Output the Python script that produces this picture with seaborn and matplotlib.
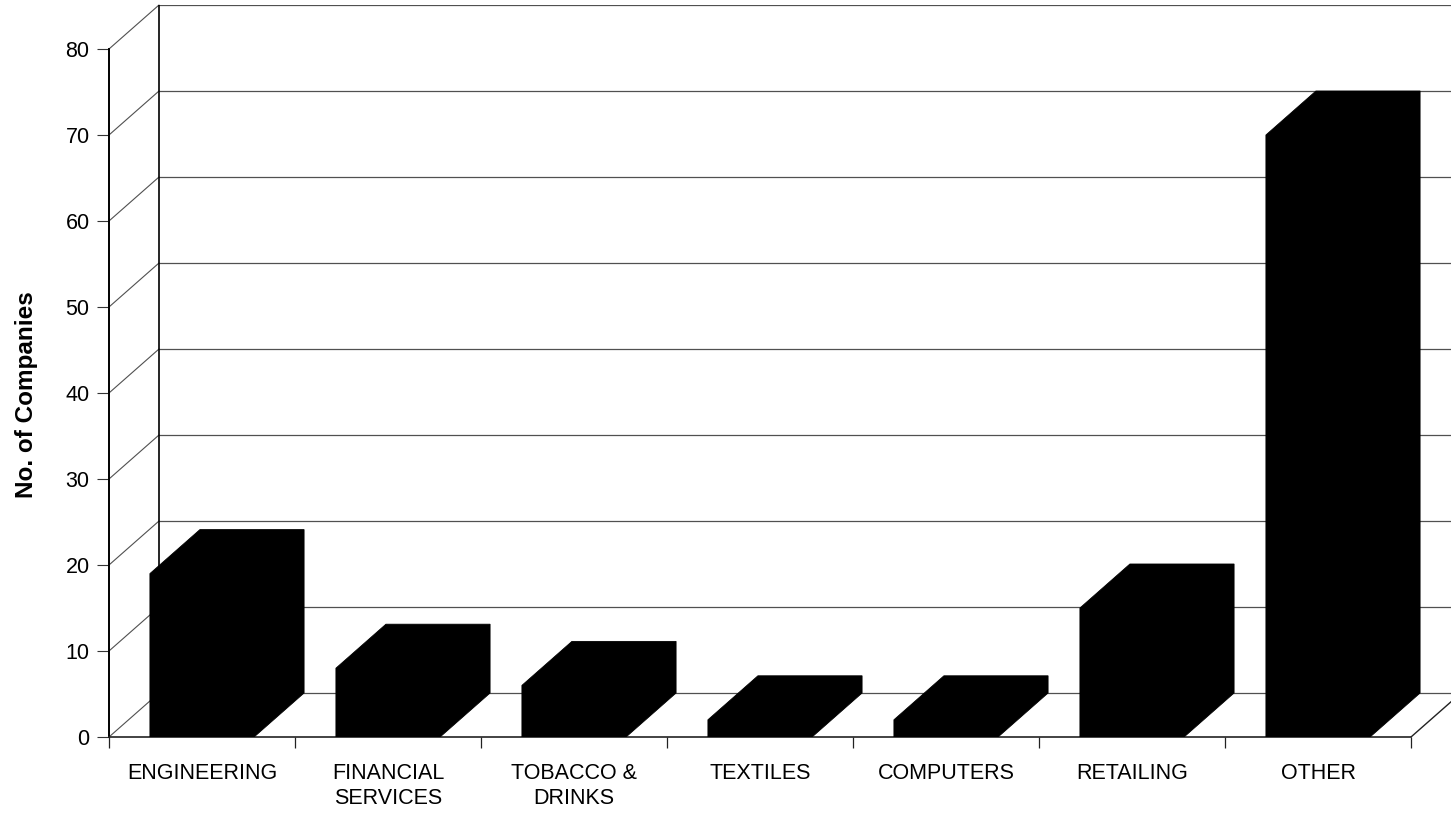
import matplotlib
matplotlib.use("Agg")
import matplotlib.pyplot as plt
import seaborn as sns
import pandas as pd
from matplotlib.patches import Polygon

categories = ["ENGINEERING", "FINANCIAL\nSERVICES", "TOBACCO &\nDRINKS", "TEXTILES",
              "COMPUTERS", "RETAILING", "OTHER"]
values = [19, 8, 6, 2, 2, 15, 70]
yticks = [0, 10, 20, 30, 40, 50, 60, 70, 80]
ylabel = "No. of Companies"

sns.set_style("white")
plt.rcParams["font.family"] = ["Liberation Sans", "DejaVu Sans"]
plt.rcParams["text.color"] = "black"
plt.rcParams["xtick.labelcolor"] = "black"
plt.rcParams["ytick.labelcolor"] = "black"

W, H = 1451, 813
fig = plt.figure(figsize=(W / 100, H / 100), dpi=100)
left_px, right_px, bot_px, top_px = 109, 1451, 737, 5
ax = fig.add_axes([left_px / W, (H - bot_px) / H, (right_px - left_px) / W, (bot_px - top_px) / H])

px_per_unit_y = 8.6
px_per_cat = 186.0
ylim = (0, (bot_px - top_px) / px_per_unit_y)
xlim = (-0.5, -0.5 + (right_px - left_px) / px_per_cat)

dX = 50 / px_per_cat
dY = 44 / px_per_unit_y

df = pd.DataFrame({"cat": categories, "val": values})
sns.barplot(data=df, x="cat", y="val", color="black", width=0.56, ax=ax,
            saturation=1, zorder=3, edgecolor="black", linewidth=0)
ax.set_ylim(*ylim)
ax.set_xlim(*xlim)

# 3D extrusion for each bar as one solid outline (front + top + side)
for p in list(ax.patches)[:len(values)]:
    x0 = p.get_x()
    x1 = x0 + p.get_width()
    h = p.get_height()
    solid = Polygon([(x0, 0), (x0, h), (x0 + dX, h + dY), (x1 + dX, h + dY),
                     (x1 + dX, dY), (x1, 0)],
                    closed=True, facecolor="black", edgecolor="black", lw=0.6, zorder=3)
    ax.add_patch(solid)

gcol = "#505050"
xmax = xlim[1]
for v in yticks:
    ax.plot([-0.5 + dX, xmax], [v + dY, v + dY], color=gcol, lw=0.9, zorder=1)
    ax.plot([-0.5, -0.5 + dX], [v, v + dY], color=gcol, lw=0.8, zorder=1, clip_on=False)
ax.plot([-0.5 + dX, -0.5 + dX], [dY, yticks[-1] + dY], color="black", lw=1.2, zorder=1)
ax.plot([len(values) - 0.5, len(values) - 0.5 + dX], [0, dY], color="#222222", lw=1.0, zorder=1)

for s in ["top", "right"]:
    ax.spines[s].set_visible(False)
ax.spines["left"].set_bounds(0, yticks[-1])
ax.spines["left"].set_linewidth(1.4)
ax.spines["left"].set_color("black")
ax.spines["bottom"].set_bounds(-0.5, len(values) - 0.5)
ax.spines["bottom"].set_linewidth(1.2)
ax.spines["bottom"].set_color("#222222")

ax.set_yticks(yticks)
ax.set_yticklabels([str(v) for v in yticks], fontsize=15.5)
ax.tick_params(axis="y", direction="out", length=8.5, width=0.8, color="#333333", pad=5.5, left=True)

ax.set_xticks(range(len(values)))
ax.set_xticklabels(categories, fontsize=15.5, linespacing=1.2)
ax.tick_params(axis="x", which="major", length=0, pad=19)
ax.set_xticks([i - 0.5 for i in range(len(values) + 1)], minor=True)
ax.tick_params(axis="x", which="minor", direction="out", length=8, width=0.9, color="#222222", bottom=True)

ax.set_xlabel("")
ax.set_ylabel("")
fig.text(27 / W, 1 - 395 / H, ylabel, rotation=90, fontsize=17.5, fontweight="bold",
         ha="center", va="center", color="black")

fig.savefig("out.png", dpi=100, facecolor="white")
